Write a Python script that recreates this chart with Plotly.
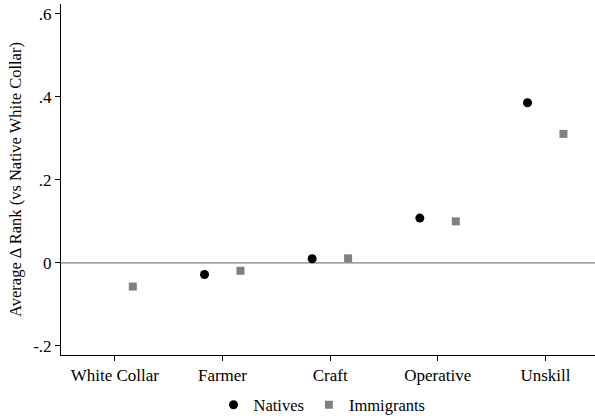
import plotly.graph_objects as go

categories = ["White Collar", "Farmer", "Craft", "Operative", "Unskill"]
natives = [None, -0.028, 0.010, 0.108, 0.386]
immigrants = [-0.057, -0.019, 0.011, 0.100, 0.311]
ytick_vals = [-0.2, 0, 0.2, 0.4, 0.6]
ytick_text = ["-.2", "0", ".2", ".4", ".6"]

offset = 0.167
pos = list(range(len(categories)))
nat_x = [p - offset for p, v in zip(pos, natives) if v is not None]
nat_y = [v for v in natives if v is not None]
imm_x = [p + offset for p in pos]

FONT = "Liberation Serif"

fig = go.Figure()
fig.add_trace(go.Scatter(x=nat_x, y=nat_y, mode="markers", name="Natives",
                         marker=dict(symbol="circle", size=9, color="black")))
fig.add_trace(go.Scatter(x=imm_x, y=immigrants, mode="markers", name="Immigrants",
                         marker=dict(symbol="square", size=8, color="#808080")))

fig.add_hline(y=0, line=dict(color="#808080", width=1.2), layer="below")

fig.update_layout(
    width=595, height=420,
    margin=dict(l=61, r=0, t=4, b=65, autoexpand=False),
    paper_bgcolor="white", plot_bgcolor="white",
    font=dict(family=FONT, size=17, color="black"),
    showlegend=True,
    legend=dict(orientation="h", x=0.5 - 6 / 534, xanchor="center", xref="paper",
                y=15 / 420, yanchor="middle", yref="container",
                font=dict(size=16.5), itemwidth=30, tracegroupgap=0),
)
fig.update_xaxes(
    range=[-0.5, 4.46], tickmode="array", tickvals=pos, ticktext=categories,
    showline=True, linecolor="black", linewidth=1, ticks="outside", ticklen=5,
    tickcolor="black", showgrid=False, zeroline=False, mirror=False, automargin=False,
)
fig.update_yaxes(
    range=[-0.222, 0.624], tickmode="array", tickvals=ytick_vals, ticktext=ytick_text,
    showline=True, linecolor="black", linewidth=1, ticks="outside", ticklen=5,
    tickcolor="black", showgrid=False, zeroline=False, automargin=False,
    title=dict(text="Average Δ Rank (vs Native White Collar)", standoff=7, font=dict(size=16.5)),
)

fig.write_html("out.html", config={"displayModeBar": False},
               post_script="document.body.style.margin='0';document.body.style.padding='0';document.body.style.overflow='hidden';")
